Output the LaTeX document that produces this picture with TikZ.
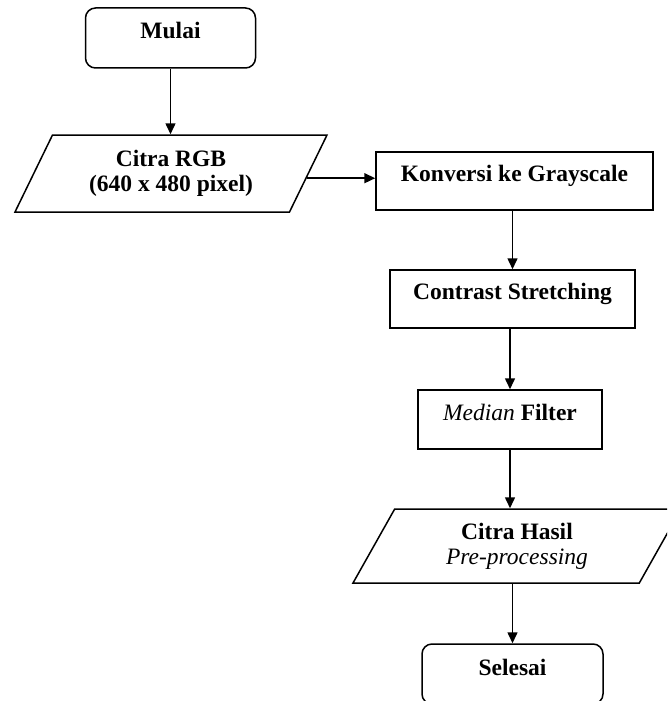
\documentclass[tikz,border=0pt]{standalone}
\usepackage{fontspec}
\setmainfont{Liberation Serif}
\usetikzlibrary{shapes.geometric,arrows.meta,calc}

\begin{document}
\begin{tikzpicture}[x=1pt,y=-1pt,line width=1.5pt,
  font=\fontsize{23.5}{25}\selectfont\bfseries,
  terminal/.style={draw,rounded corners=10pt,minimum width=170pt,minimum height=60pt,
    inner sep=0pt,text height=0.7em,text depth=0.5em},
  proc/.style={draw,minimum height=58pt,inner sep=0pt,text height=0.7em,text depth=0.55em},
  data/.style={draw,trapezium,trapezium stretches body,align=center,inner sep=0pt},
  flow/.style={-{Triangle[length=11pt,width=10pt]}}]
\useasboundingbox (0,0) rectangle (667,701);
\clip (0,0) rectangle (667,701);
% left column
\node[terminal] (mulai) at (170.5,38) {Mulai};
\node[data,trapezium left angle=51,trapezium right angle=129,
      minimum width=312pt,minimum height=77pt] (rgb) at (171,173.5)
      {Citra RGB\\(640 x 480 pixel)};
% right column
\node[proc,minimum width=277pt] (konversi) at (514.5,181) {Konversi ke Grayscale};
\node[proc,minimum width=245pt] (contrast) at (512.5,299) {Contrast Stretching};
\node[proc,minimum width=184pt,minimum height=59pt] (median) at (510,419.5)
      {{\mdseries\itshape Median} Filter};
\node[data,trapezium left angle=48,trapezium right angle=132,
      minimum width=328pt,minimum height=74pt] (hasil) at (517,546)
      {Citra Hasil\\{\mdseries\itshape Pre-processing}};
\node[terminal,minimum width=181pt] (selesai) at (512.5,674) {Selesai};
% arrows
\draw[flow] (mulai) -- (mulai |- rgb.top side);
\draw[flow] ($(rgb.top right corner)!.56!(rgb.bottom right corner)$) coordinate (out)
      -- (out -| konversi.west);
\draw[flow] (contrast.north |- konversi.south) -- (contrast.north);
\draw[flow] (contrast.south -| median.north) -- (median.north);
\draw[flow] (median) -- (median |- hasil.top side);
\draw[flow] (selesai |- hasil.bottom side) -- (selesai);
\end{tikzpicture}
\end{document}
